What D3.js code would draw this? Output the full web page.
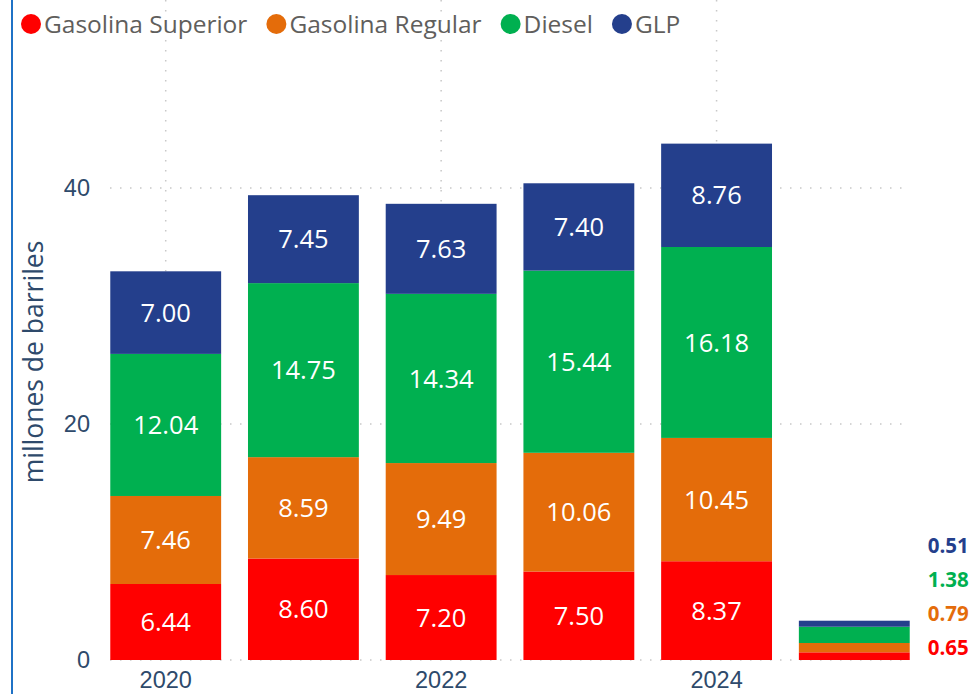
<!DOCTYPE html>
<html>
<head>
<meta charset="utf-8">
<script src="https://cdn.jsdelivr.net/npm/d3@7"></script>
<style>
  body { margin: 0; background: #fff; }
  svg { display: block; font-family: "Open Sans", "Noto Sans", sans-serif; }
</style>
</head>
<body>
<svg id="chart" width="974" height="694"></svg>
<script>
const years = ["2020", "2021", "2022", "2023", "2024", "2025"];
const seriesNames = ["Gasolina Superior", "Gasolina Regular", "Diesel", "GLP"];
const superior = [6.44, 8.60, 7.20, 7.50, 8.37, 0.65];
const regular = [7.46, 8.59, 9.49, 10.06, 10.45, 0.79];
const diesel = [12.04, 14.75, 14.34, 15.44, 16.18, 1.38];
const glp = [7.00, 7.45, 7.63, 7.40, 8.76, 0.51];
const yTicks = [0, 20, 40];
const xTickLabels = ["2020", "2022", "2024"];
const colors = ["#FF0000", "#E46C0A", "#00B050", "#243F8C"];

const rows = years.map((y, i) => ({
  year: y,
  "Gasolina Superior": superior[i],
  "Gasolina Regular": regular[i],
  "Diesel": diesel[i],
  "GLP": glp[i]
}));

const svg = d3.select("#chart");

// left border line
svg.append("line")
  .attr("x1", 12).attr("x2", 12).attr("y1", 0).attr("y2", 694)
  .attr("stroke", "#1F72C6").attr("stroke-width", 2);

const x = d3.scaleBand().domain(years).range([96.5, 923.5]).paddingInner(0.195).paddingOuter(0.1);
const y = d3.scaleLinear().domain([0, 40]).range([660, 188]);

const color = d3.scaleOrdinal().domain(seriesNames).range(colors);

// gridlines
const grid = svg.append("g");
grid.selectAll("line.h")
  .data(yTicks)
  .enter().append("line")
  .attr("x1", 110).attr("x2", 902)
  .attr("y1", d => y(d)).attr("y2", d => y(d))
  .attr("stroke", "#C8C8C8").attr("stroke-width", 1.5)
  .attr("stroke-dasharray", "1.5,8.5");
grid.selectAll("line.v")
  .data(xTickLabels)
  .enter().append("line")
  .attr("x1", d => x(d) + x.bandwidth() / 2).attr("x2", d => x(d) + x.bandwidth() / 2)
  .attr("y1", 0).attr("y2", 660)
  .attr("stroke", "#C8C8C8").attr("stroke-width", 1.5)
  .attr("stroke-dasharray", "1.5,8.5");

const stacked = d3.stack().keys(seriesNames)(rows);

const layers = svg.append("g").selectAll("g")
  .data(stacked)
  .enter().append("g")
  .attr("fill", d => color(d.key));

layers.selectAll("rect")
  .data(d => d)
  .enter().append("rect")
  .attr("x", d => x(d.data.year))
  .attr("width", x.bandwidth())
  .attr("y", d => y(d[1]))
  .attr("height", d => y(d[0]) - y(d[1]));

// inside labels (not for last small bar)
const labels = svg.append("g");
stacked.forEach(layer => {
  labels.selectAll(null)
    .data(layer.filter(d => d.data.year !== "2025"))
    .enter().append("text")
    .attr("x", d => x(d.data.year) + x.bandwidth() / 2)
    .attr("y", d => (y(d[0]) + y(d[1])) / 2)
    .attr("dy", "0.36em")
    .attr("text-anchor", "middle")
    .attr("fill", "#fff")
    .attr("font-size", 25.5)
    .text(d => (d[1] - d[0]).toFixed(2));
});

// outside labels for 2025
const last = years.length - 1;
svg.append("g").selectAll("text")
  .data(stacked)
  .enter().append("text")
  .attr("x", x(years[last]) + x.bandwidth() + 18)
  .attr("y", (d, i) => y(0) - 12 - i * 34)
  .attr("dy", "0.36em")
  .attr("fill", d => color(d.key))
  .attr("font-size", 20.5)
  .attr("font-weight", "bold")
  .text(d => (d[last][1] - d[last][0]).toFixed(2));

// y axis
const yAxis = svg.append("g")
  .attr("transform", "translate(90,0)")
  .call(d3.axisLeft(y).tickValues(yTicks).tickSize(0).tickPadding(0));
yAxis.select(".domain").remove();
yAxis.selectAll("text").attr("font-size", 23.5).attr("fill", "#2E4A6B").attr("font-family", null);

// x axis
const xAxis = svg.append("g")
  .attr("transform", "translate(0,660)")
  .call(d3.axisBottom(x).tickValues(xTickLabels).tickSize(0).tickPadding(11));
xAxis.select(".domain").remove();
xAxis.selectAll("text").attr("font-size", 23.5).attr("fill", "#2E4A6B").attr("font-family", null);

// y axis title
svg.append("text")
  .attr("transform", "translate(43,362) rotate(-90)")
  .attr("text-anchor", "middle")
  .attr("font-size", 26.5)
  .attr("fill", "#2E4A6B")
  .text("millones de barriles");

// legend, laid out left to right
let lx = 31;
seriesNames.forEach(name => {
  const item = svg.append("g").attr("transform", `translate(${lx},24)`);
  item.append("circle").attr("r", 10).attr("fill", color(name));
  const t = item.append("text")
    .attr("x", 13).attr("dy", "0.36em")
    .attr("font-size", 24.5).attr("fill", "#605E5C")
    .text(name);
  lx += 13 + t.node().getComputedTextLength() + 29;
});
</script>
</body>
</html>
